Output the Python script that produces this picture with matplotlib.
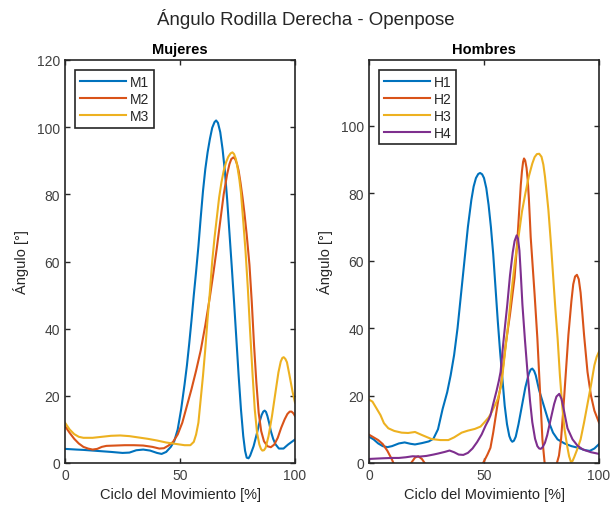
import matplotlib
matplotlib.use("Agg")
import matplotlib.pyplot as plt

plt.rcParams['font.family'] = ['Liberation Sans', 'DejaVu Sans']

# ---------------- data: Mujeres ----------------
m1_x = [0, 5, 8, 12, 16, 20, 25, 28, 31, 34, 37, 40, 42, 44, 46, 47.5, 49, 50.5, 52, 53, 54, 55, 56, 57, 58, 59, 60, 61, 62,
        63, 64, 65, 65.7, 66.5, 67.5, 68.5, 69.5, 70.5, 71.5, 72.5, 73.5, 74.5, 75.5, 76.5, 77.5, 78.3, 79, 79.8,
        80.5, 82, 83.5, 84.7, 85.5, 86.2, 86.8, 87.4, 88, 88.8, 89.5, 90.5, 91.5, 93, 95, 97, 100]
m1_y = [4.2, 4.0, 3.9, 3.7, 3.5, 3.3, 3.0, 3.1, 3.8, 4.0, 3.7, 3.0, 2.7, 3.3, 4.8, 6.5, 10, 16, 23.5, 29, 35.5, 42.5, 50, 57, 64.5, 73, 81, 87.5, 92.5,
        96.5, 99.8, 101.5, 102, 101.3, 98.5, 93.5, 87, 78.5, 68.5, 58.5, 48, 37, 26, 16, 8, 3.6, 1.6, 1.4,
        2.2, 5.0, 9, 12.5, 14.3, 15.3, 15.6, 15.2, 14, 11.8, 9.5, 7.2, 5.6, 4.3, 4.3, 5.5, 7.0]

m2_x = [0, 2, 4, 6, 8, 10, 12, 14, 16, 18, 22, 26, 30, 34, 38, 41, 43, 45, 47, 49, 51, 53, 55, 57, 59, 61, 63, 64.5,
        66, 67.5, 69, 70.5, 71.5, 72.3, 73.2, 74, 74.8, 75.5, 76.3, 77.2, 78, 79, 80.2, 81.2, 82.2, 83.2, 84.2,
        85.3, 86.5, 88, 89.5, 91, 92.5, 94, 95.5, 96.7, 97.7, 98.5, 99.3, 100]
m2_y = [11, 9, 7.2, 5.8, 4.8, 4.3, 4.0, 4.2, 4.8, 5.1, 5.2, 5.3, 5.3, 5.2, 4.8, 4.3, 4.4, 5.2, 6.3, 8.5, 12, 17, 22, 27.5, 33.5, 41, 49.5, 56.5,
        64, 72, 80, 86, 89, 90.5, 91, 90.5, 89, 87, 83.5, 79, 74.5, 68, 59, 48, 35, 24, 15,
        9.5, 6.5, 5.0, 4.7, 5.5, 7.5, 10.5, 13, 14.6, 15.3, 15.3, 14.8, 14]

m3_x = [0, 2, 4, 6, 8, 12, 16, 20, 24, 28, 32, 36, 40, 44, 48, 52, 54.5, 56, 57, 58, 59, 60, 61, 62, 63, 64, 65, 66,
        67, 68, 69, 70, 71, 72, 72.8, 73.5, 74.3, 75, 75.8, 76.5, 77.5, 78.5, 79.5, 80.5, 81.5, 82.5, 83.5, 84.5,
        85.2, 85.8, 86.5, 87.2, 88.5, 90, 91.5, 92.8, 93.8, 94.5, 95.1, 95.8, 96.5, 97.5, 99, 100]
m3_y = [12, 10, 8.6, 7.8, 7.5, 7.5, 7.8, 8.1, 8.2, 8.0, 7.6, 7.2, 6.7, 6.1, 5.7, 5.3, 5.3, 6.3, 8.5, 12, 19, 26, 34, 43, 51, 60, 67, 73,
        79, 83.5, 87, 89.5, 91.2, 92.2, 92.5, 92, 90.5, 88, 84.5, 80.5, 72, 63, 52, 39, 27, 16, 9, 5.5,
        4.2, 3.7, 3.8, 4.5, 8, 14, 21, 27, 30.2, 31.3, 31.5, 31.0, 30, 26.5, 21, 18]

# ---------------- data: Hombres ----------------
h1_x = [0, 2, 4, 6, 8, 10, 13, 15.5, 18, 20, 23, 26, 28, 30, 32, 34, 35.5, 37, 38.5, 40, 41.5, 43, 44.5, 45.5, 46.5,
        47.5, 48.3, 49.2, 50, 51, 52, 53, 54, 55, 56, 57, 58, 59, 60, 61, 61.7, 62.3, 63, 63.8, 65, 66.5, 68, 69.5,
        70.3, 71, 71.8, 72.5, 74, 76, 78, 80, 82, 85, 88, 91, 94, 96, 98, 100]
h1_y = [7.8, 7.0, 5.8, 5.0, 4.7, 5.0, 5.8, 6.1, 5.7, 5.5, 5.9, 6.4, 7.2, 10, 16, 21, 26, 32, 40, 50, 60, 70, 78, 82, 84.5,
        85.7, 86, 85.6, 84.5, 81.5, 76.5, 70, 62, 52, 42, 33, 25, 17, 11.5, 8, 6.8, 6.3, 6.6, 7.8, 11.5, 17, 22.5, 26.5,
        27.7, 28, 27.3, 26, 21.5, 17, 12.5, 9, 7, 5.8, 5.0, 4.5, 3.8, 3.6, 4.3, 5.6]

h2_x = [0, 2, 4, 6, 8, 10, 11.5, 13, 15.5, 18, 20, 21.4, 23, 24.5, 27, 32, 38, 44, 48, 50, 51.5, 52.8, 54, 55.8, 57.5,
        59.4, 61.3, 63.3, 64.5, 65.5, 66, 66.5, 67, 67.4, 67.9, 68.5, 69, 69.5, 70, 70.3, 71, 72, 73.2, 74.3, 75.4,
        76.5, 78, 80, 81.7, 82.6, 83.5, 84.5, 85.6, 86.7, 88, 88.8, 89.6, 90.4, 91.2, 92, 92.8, 93.5, 95, 96.5, 98, 100]
h2_y = [8.4, 7.6, 6.8, 5.6, 3.6, 1.0, -1.5, -3, -2.5, -0.3, 1.6, 2.0, 1.2, -0.3, -3, -6, -7, -5, -2, 0.5, 2.5, 4.5, 9, 17, 24,
        35, 44, 55, 66, 77, 82.5, 86.5, 89.3, 90.3, 89.7, 87.5, 84, 78.5, 71.5, 67, 60, 50, 37, 22, 7,
        -1, -5, -4, 0, 2.2, 7, 16, 27, 38, 48, 53, 55.3, 55.8, 54.5, 50.5, 44, 38, 27, 20, 15.5, 12]

h3_x = [0, 1.5, 3, 5, 6.5, 8.4, 11, 14.2, 17, 20, 23, 27.2, 31, 34.5, 37, 40.3, 43, 46, 48.5, 50.5, 52, 53.3, 55, 56,
        57.5, 59, 60.5, 62, 63.5, 65, 66.5, 68, 69.5, 71, 72, 73, 74, 75, 75.8, 76.5, 77.2, 78, 79, 80, 81, 82, 83,
        84, 85, 86.3, 87, 87.8, 88.5, 89.2, 90.5, 92, 93.5, 95, 96.5, 98, 99, 100]
h3_y = [18.8, 18.2, 16.5, 14.2, 11.8, 10.3, 9.5, 9.0, 8.9, 9.2, 8.3, 7.1, 6.8, 6.8, 7.6, 9.0, 9.6, 10.1, 10.8, 12.3, 13.5, 15, 17.5, 19,
        23, 32, 41, 51, 60, 67, 74.5, 80, 85, 88.8, 90.7, 91.6, 91.7, 90.8, 88.5, 85, 80.5, 75, 66, 56, 46, 37, 26,
        17, 10, 4.5, 2, 0.3, 0.6, 1.7, 4, 7, 12, 17.5, 23, 29, 31.5, 33]

h4_x = [0, 3, 6, 10, 13, 16, 19, 22, 25, 28, 30, 33, 35, 37, 39, 41, 43, 45, 47, 49, 50.7, 52, 52.8, 54, 55.5, 56.5,
        57.2, 58.3, 59.2, 60.1, 61.3, 62.5, 63.3, 64.2, 64.8, 65.4, 66, 66.7, 67.8, 68.9, 70, 71, 72.2, 73.2, 74,
        74.7, 75.5, 76.5, 77.5, 79, 80.5, 81.5, 82.7, 83.7, 84.5, 85.5, 86.3, 88.5, 90.7, 93, 96.5, 100]
h4_y = [1.2, 1.3, 1.4, 1.5, 1.5, 1.7, 2.0, 1.9, 2.1, 2.5, 2.8, 3.3, 3.7, 3.2, 2.5, 2.4, 3.0, 4.3, 6.2, 8.5, 11.1, 12.8, 14.1, 17.5, 21.5, 24.5,
        27, 35, 41, 46.8, 55.6, 62.5, 65.8, 67.5, 66.5, 63, 56, 47, 36.5, 27, 18.5, 12.1, 7.2, 5.0, 4.3,
        4.2, 4.7, 6.0, 8.3, 13, 17.5, 19.7, 20.5, 19, 16.5, 13, 10.3, 7, 5.1, 4, 3.2, 2.7]

colors = ['#0072BD', '#D95319', '#EDB120', '#7E2F8E']
txt = '#262626'

fig = plt.figure(figsize=(6.11, 5.10), dpi=100)
fig.text(0.5, 0.962, 'Ángulo Rodilla Derecha - Openpose', ha='center', va='center', fontsize=13.4, color=txt)

ax1 = fig.add_axes([65/611, 46/510, 230/611, 403/510])
ax2 = fig.add_axes([369/611, 46/510, 230/611, 403/510])

for (xs, ys, lab), c in zip([(m1_x, m1_y, 'M1'), (m2_x, m2_y, 'M2'), (m3_x, m3_y, 'M3')], colors):
    ax1.plot(xs, ys, color=c, lw=1.5, label=lab)
for (xs, ys, lab), c in zip([(h1_x, h1_y, 'H1'), (h2_x, h2_y, 'H2'), (h3_x, h3_y, 'H3'), (h4_x, h4_y, 'H4')], colors):
    ax2.plot(xs, ys, color=c, lw=1.5, label=lab)

ax1.set_ylim(0, 120)
ax1.set_yticks([0, 20, 40, 60, 80, 100, 120])
ax2.set_ylim(0, 119.5)
ax2.set_yticks([0, 20, 40, 60, 80, 100])

for ax, title in [(ax1, 'Mujeres'), (ax2, 'Hombres')]:
    ax.set_xlim(0, 100)
    ax.set_xticks([0, 50, 100])
    ax.set_title(title, fontsize=10.5, fontweight='bold', color='black', pad=5)
    ax.set_xlabel('Ciclo del Movimiento [%]', fontsize=10.5, color=txt, labelpad=4)
    ax.set_ylabel('Ángulo [°]', fontsize=10.5, color=txt, labelpad=6)
    ax.tick_params(direction='in', length=3.5, width=1, colors=txt, labelsize=10,
                   top=True, right=True, labelcolor='#404040')
    for s in ax.spines.values():
        s.set_color(txt)
        s.set_linewidth(1.2)
    leg = ax.legend(loc='upper left', fontsize=10, handlelength=3.3, handletextpad=0.25,
                    labelspacing=0.2, borderpad=0.35, borderaxespad=0.75, fancybox=False,
                    framealpha=1)
    leg.get_frame().set_edgecolor(txt)
    leg.get_frame().set_linewidth(1.2)
    for t in leg.get_texts():
        t.set_color(txt)

fig.savefig('out.png', dpi=100)
